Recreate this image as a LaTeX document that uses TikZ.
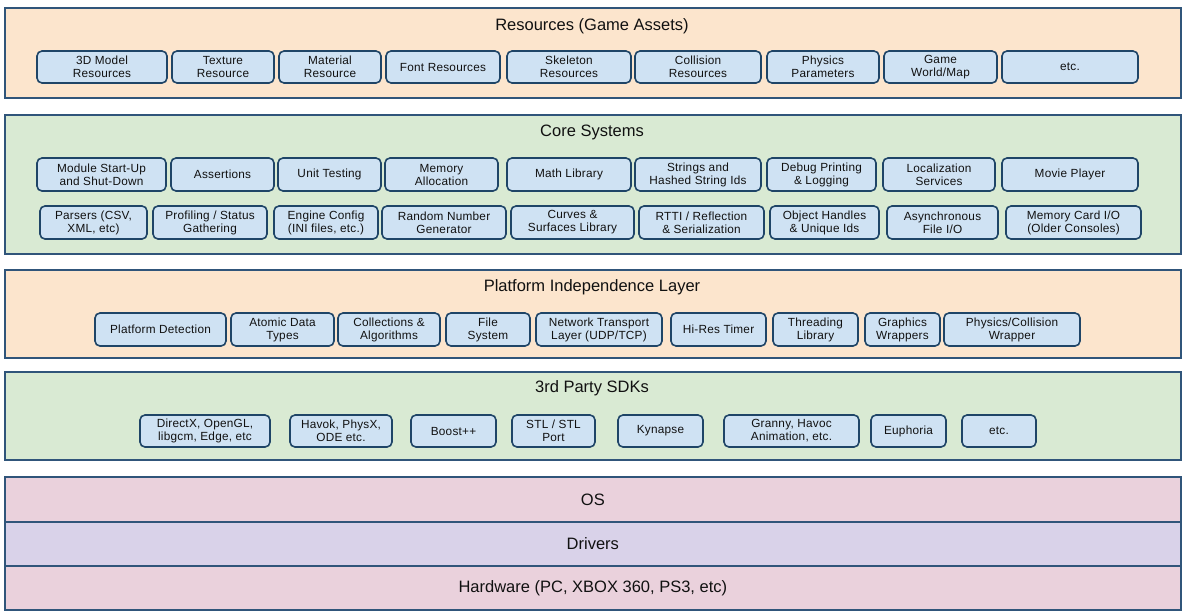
\documentclass[tikz,border=0pt]{standalone}
\usepackage{fontspec}
\setmainfont{Liberation Sans}
\newfontfamily\boxfont[LetterSpace=2]{Liberation Sans}
\definecolor{peach}{HTML}{FCE5CD}
\definecolor{mint}{HTML}{D9EAD3}
\definecolor{rosy}{HTML}{EAD1DC}
\definecolor{lilac}{HTML}{D9D2E9}
\definecolor{boxblue}{HTML}{CFE2F3}
\definecolor{edgeblue}{HTML}{1F4567}
\definecolor{layeredge}{HTML}{30557A}
\definecolor{txt}{HTML}{111111}
\tikzset{
  layer/.style={draw=layeredge, line width=1.7pt, anchor=north west, inner sep=0pt, minimum width=1176pt},
  ttl/.style={text=txt, font=\fontsize{16.5}{18}\selectfont, inner sep=0pt},
  sb/.style={draw=edgeblue, fill=boxblue, line width=1.6pt, rounded corners=5pt, text=txt,
    align=center, inner sep=0pt, font=\boxfont\fontsize{11.8}{13}\selectfont}
}
\newcommand\bx[6]{\node[sb, minimum width={(#3-#2)*1pt}, minimum height={(#5-#4)*1pt}] (#1) at ({(#2+#3)/2},{(#4+#5)/2}) {#6};}
\begin{document}
\begin{tikzpicture}[x=1pt,y=-1pt]
\useasboundingbox[fill=white] (0,0) rectangle (1184,614);
% layers
\node[layer, fill=peach, minimum height=90pt] (res) at (4,7) {};
\node[ttl] (rest) at (592,26) {Resources (Game Assets)};
\node[layer, fill=mint, minimum height=139pt] (core) at (4,114) {};
\node[ttl] (coret) at (592,132) {Core Systems};
\node[layer, fill=peach, minimum height=88pt] (pil) at (4,269) {};
\node[ttl] (pilt) at (592,287) {Platform Independence Layer};
\node[layer, fill=mint, minimum height=88pt] (sdk) at (4,371) {};
\node[ttl] (sdkt) at (592,388) {3rd Party SDKs};
\node[layer, fill=rosy, minimum height=45pt] (os) at (4,476) {};
\node[ttl] at (os.center) {OS};
\node[layer, fill=lilac, minimum height=44pt] (drv) at (4,521) {};
\node[ttl] at (drv.center) {Drivers};
\node[layer, fill=rosy, minimum height=44pt] (hw) at (4,565) {};
\node[ttl] at (hw.center) {Hardware (PC, XBOX 360, PS3, etc)};
% resources
\bx{r1}{37}{167}{51}{83}{3D Model\\Resources}
\bx{r2}{172}{274}{51}{83}{Texture\\Resource}
\bx{r3}{279}{381}{51}{83}{Material\\Resource}
\bx{r4}{386}{500}{51}{83}{Font Resources}
\bx{r5}{507}{631}{51}{83}{Skeleton\\Resources}
\bx{r6}{635}{761}{51}{83}{Collision\\Resources}
\bx{r7}{767}{879}{51}{83}{Physics\\Parameters}
\bx{r8}{884}{997}{51}{83}{Game\\World/Map}
\bx{r9}{1002}{1138}{51}{83}{etc.}
% core row 1
\bx{c1}{37}{166}{158}{191}{Module Start-Up\\and Shut-Down}
\bx{c2}{171}{274}{158}{191}{Assertions}
\bx{c3}{278}{381}{158}{191}{Unit Testing}
\bx{c4}{385}{498}{158}{191}{Memory\\Allocation}
\bx{c5}{507}{631}{158}{191}{Math Library}
\bx{c6}{635}{761}{158}{191}{Strings and\\Hashed String Ids}
\bx{c7}{767}{876}{158}{191}{Debug Printing\\\& Logging}
\bx{c8}{883}{995}{158}{191}{Localization\\Services}
\bx{c9}{1002}{1138}{158}{191}{Movie Player}
% core row 2
\bx{d1}{40}{147}{206}{239}{Parsers (CSV,\\XML, etc)}
\bx{d2}{153}{267}{206}{239}{Profiling / Status\\Gathering}
\bx{d3}{274}{378}{206}{239}{Engine Config\\(INI files, etc.)}
\bx{d4}{382}{506}{206}{239}{Random Number\\Generator}
\bx{d5}{511}{634}{206}{239}{Curves \&\\Surfaces Library}
\bx{d6}{639}{764}{206}{239}{RTTI / Reflection\\\& Serialization}
\bx{d7}{770}{879}{206}{239}{Object Handles\\\& Unique Ids}
\bx{d8}{887}{998}{206}{239}{Asynchronous\\File I/O}
\bx{d9}{1006}{1141}{206}{239}{Memory Card I/O\\(Older Consoles)}
% platform independence
\bx{p1}{95}{226}{313}{346}{Platform Detection}
\bx{p2}{231}{334}{313}{346}{Atomic Data\\Types}
\bx{p3}{338}{440}{313}{346}{Collections \&\\Algorithms}
\bx{p4}{446}{530}{313}{346}{File\\System}
\bx{p5}{536}{662}{313}{346}{Network Transport\\Layer (UDP/TCP)}
\bx{p6}{671}{766}{313}{346}{Hi-Res Timer}
\bx{p7}{773}{858}{313}{346}{Threading\\Library}
\bx{p8}{865}{940}{313}{346}{Graphics\\Wrappers}
\bx{p9}{944}{1080}{313}{346}{Physics/Collision\\Wrapper}
% 3rd party
\bx{s1}{140}{270}{415}{447}{DirectX, OpenGL,\\libgcm, Edge, etc}
\bx{s2}{290}{392}{415}{447}{Havok, PhysX,\\ODE etc.}
\bx{s3}{411}{496}{415}{447}{Boost++}
\bx{s4}{512}{595}{415}{447}{STL / STL\\Port}
\bx{s5}{618}{703}{415}{447}{Kynapse}
\bx{s6}{724}{859}{415}{447}{Granny, Havoc\\Animation, etc.}
\bx{s7}{871}{946}{415}{447}{Euphoria}
\bx{s8}{962}{1036}{415}{447}{etc.}
\end{tikzpicture}
\end{document}
